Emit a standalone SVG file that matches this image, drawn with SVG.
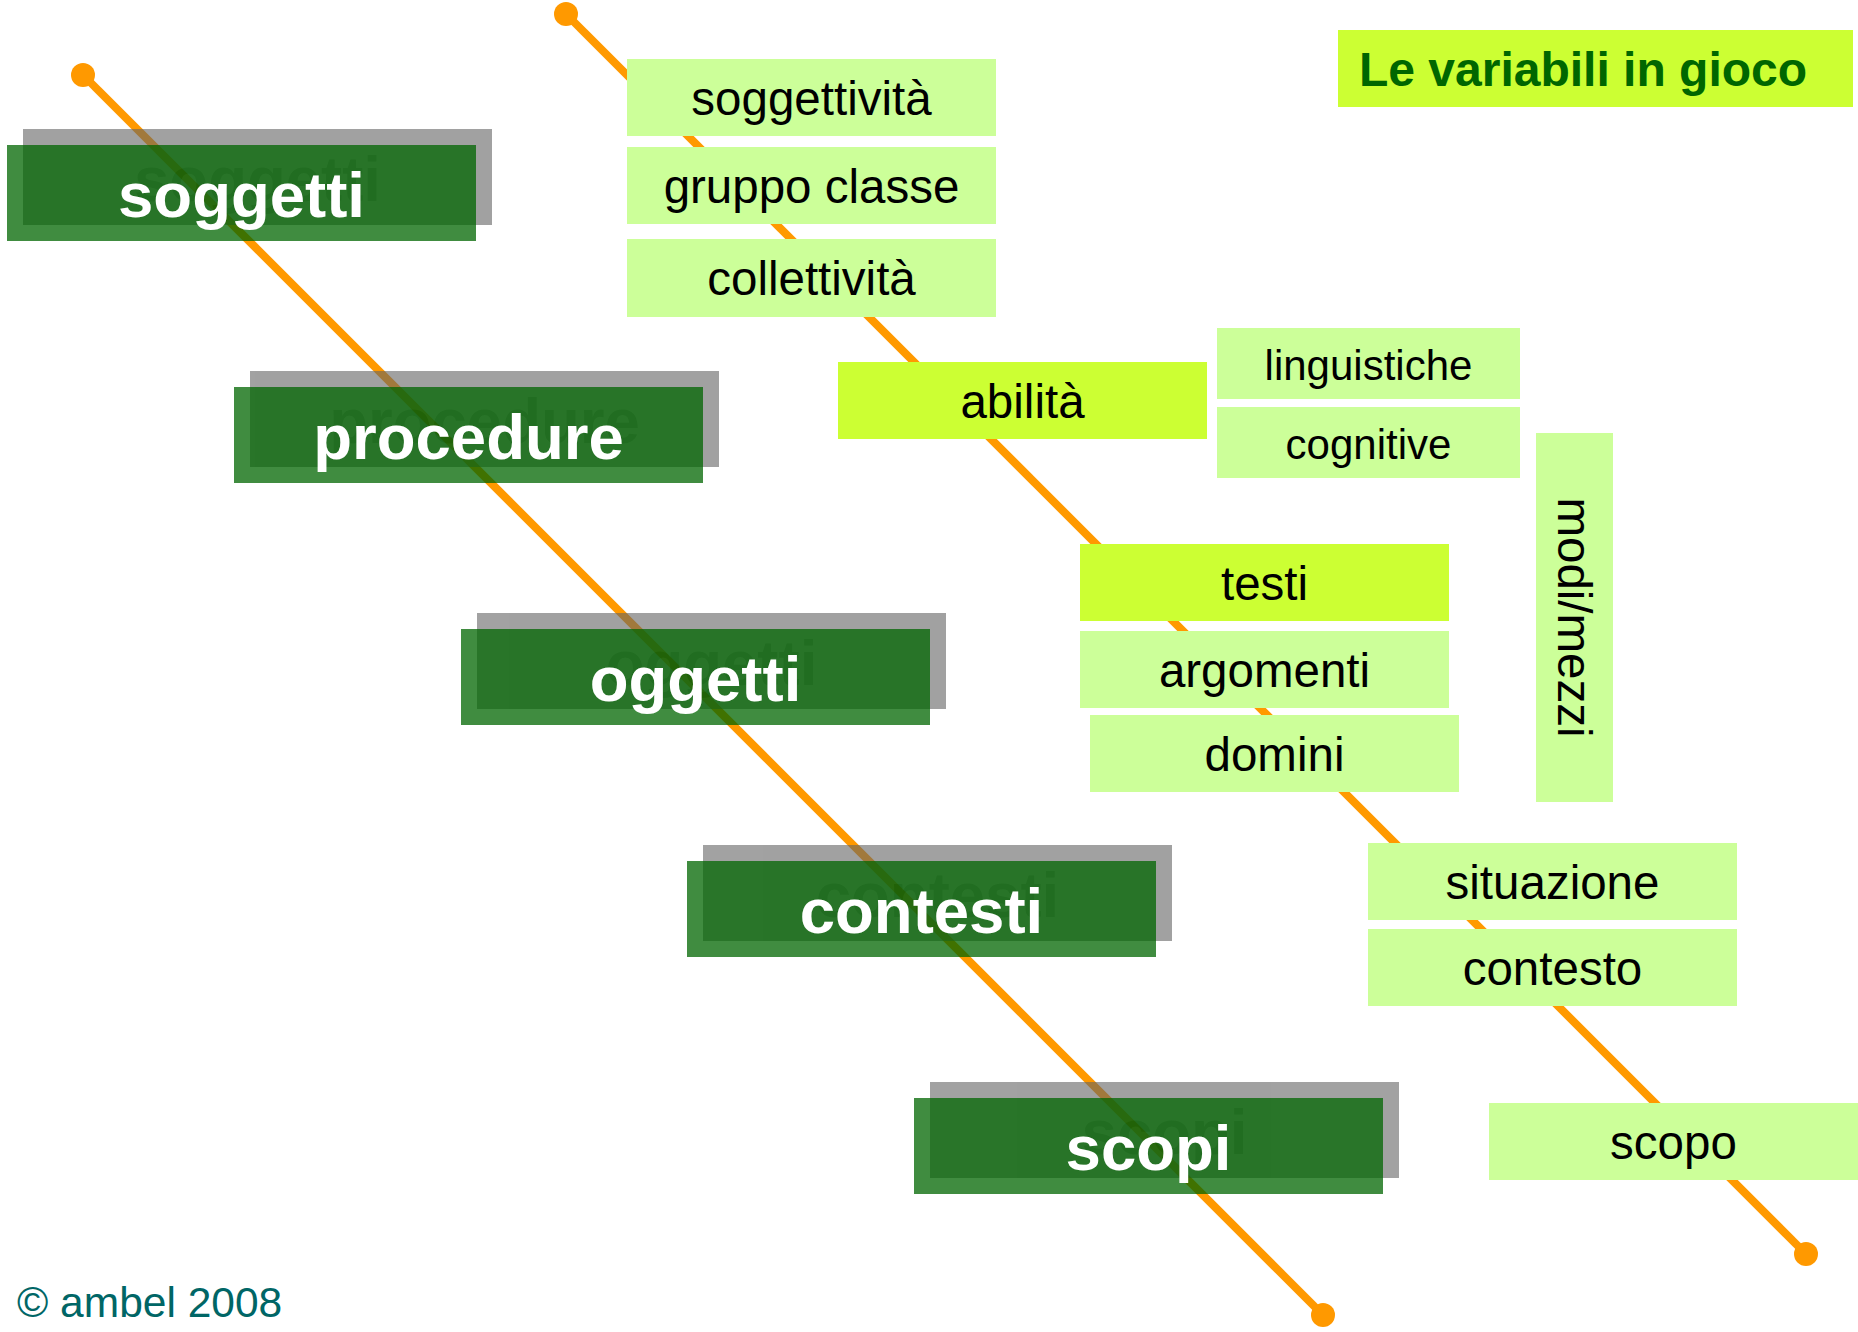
<svg xmlns="http://www.w3.org/2000/svg" width="1858" height="1332" viewBox="0 0 1858 1332">
<defs>
<style>
.conn{stroke:#ff9900;stroke-width:8;fill:none}
.shadow{opacity:0.6}
.shr{fill:#646464}
.sht{fill:#303030;font-family:"Liberation Sans",Arial,sans-serif;font-weight:bold;font-size:63.5px;text-anchor:middle}
.main{fill:#006600;fill-opacity:0.75}
.mt{fill:#ffffff;font-family:"Liberation Sans",Arial,sans-serif;font-weight:bold;font-size:63.5px;text-anchor:middle}
.lg{fill:#ccff99}
.yg{fill:#ccff33}
.t{fill:#000000;font-family:"Liberation Sans",Arial,sans-serif;font-size:47.5px;text-anchor:middle}
.ts{fill:#000000;font-family:"Liberation Sans",Arial,sans-serif;font-size:42px;text-anchor:middle}
</style>
<marker id="dot" viewBox="-13 -13 26 26" markerWidth="26" markerHeight="26" markerUnits="userSpaceOnUse" refX="0" refY="0">
<circle r="12" fill="#ff9900"/>
</marker>
</defs>
<rect width="1858" height="1332" fill="#ffffff"/>
<g id="connectors">
<line class="conn" x1="83" y1="75" x2="1323" y2="1315" marker-start="url(#dot)" marker-end="url(#dot)"/>
<line class="conn" x1="566" y1="14" x2="1806" y2="1254" marker-start="url(#dot)" marker-end="url(#dot)"/>
</g>
<g id="soggetti">
<g class="shadow"><rect class="shr" x="23" y="129" width="469" height="96"/><text class="sht" x="257.5" y="200.5">soggetti</text></g>
<rect class="main" x="7" y="145" width="469" height="96"/>
<text class="mt" x="241.5" y="216.5">soggetti</text>
</g>
<g id="procedure">
<g class="shadow"><rect class="shr" x="250" y="371" width="469" height="96"/><text class="sht" x="484.5" y="442.5">procedure</text></g>
<rect class="main" x="234" y="387" width="469" height="96"/>
<text class="mt" x="468.5" y="458.5">procedure</text>
</g>
<g id="oggetti">
<g class="shadow"><rect class="shr" x="477" y="613" width="469" height="96"/><text class="sht" x="711.5" y="684.5">oggetti</text></g>
<rect class="main" x="461" y="629" width="469" height="96"/>
<text class="mt" x="695.5" y="700.5">oggetti</text>
</g>
<g id="contesti">
<g class="shadow"><rect class="shr" x="703" y="845" width="469" height="96"/><text class="sht" x="937.5" y="916.5">contesti</text></g>
<rect class="main" x="687" y="861" width="469" height="96"/>
<text class="mt" x="921.5" y="932.5">contesti</text>
</g>
<g id="scopi">
<g class="shadow"><rect class="shr" x="930" y="1082" width="469" height="96"/><text class="sht" x="1164.5" y="1153.5">scopi</text></g>
<rect class="main" x="914" y="1098" width="469" height="96"/>
<text class="mt" x="1148.5" y="1169.5">scopi</text>
</g>
<g id="soggettivita"><rect class="lg" x="627" y="59" width="369" height="77"/><text class="t" x="811.5" y="114.5">soggettività</text></g>
<g id="gruppo-classe"><rect class="lg" x="627" y="147" width="369" height="77"/><text class="t" x="811.5" y="202.5">gruppo classe</text></g>
<g id="collettivita"><rect class="lg" x="627" y="239" width="369" height="78"/><text class="t" x="811.5" y="295">collettività</text></g>
<g id="abilita"><rect class="yg" x="838" y="362" width="369" height="77"/><text class="t" x="1022.5" y="417.5">abilità</text></g>
<g id="linguistiche"><rect class="lg" x="1217" y="328" width="303" height="71"/><text class="ts" x="1368.5" y="379.5">linguistiche</text></g>
<g id="cognitive"><rect class="lg" x="1217" y="407" width="303" height="71"/><text class="ts" x="1368.5" y="458.5">cognitive</text></g>
<g id="modi-mezzi"><rect class="lg" x="1536" y="433" width="77" height="369"/><text class="t" x="1574.5" y="634.5" transform="rotate(90 1574.5 617.5)">modi/mezzi</text></g>
<g id="testi"><rect class="yg" x="1080" y="544" width="369" height="77"/><text class="t" x="1264.5" y="599.5">testi</text></g>
<g id="argomenti"><rect class="lg" x="1080" y="631" width="369" height="77"/><text class="t" x="1264.5" y="686.5">argomenti</text></g>
<g id="domini"><rect class="lg" x="1090" y="715" width="369" height="77"/><text class="t" x="1274.5" y="770.5">domini</text></g>
<g id="situazione"><rect class="lg" x="1368" y="843" width="369" height="77"/><text class="t" x="1552.5" y="898.5">situazione</text></g>
<g id="contesto"><rect class="lg" x="1368" y="929" width="369" height="77"/><text class="t" x="1552.5" y="984.5">contesto</text></g>
<g id="scopo"><rect class="lg" x="1489" y="1103" width="369" height="77"/><text class="t" x="1673.5" y="1158.5">scopo</text></g>
<g id="title"><rect class="yg" x="1338" y="30" width="515" height="77"/><text x="1359" y="86" font-family="'Liberation Sans',Arial,sans-serif" font-weight="bold" font-size="48" fill="#006600">Le variabili in gioco</text></g>
<g id="copyright"><text x="17" y="1317" font-family="'Liberation Sans',Arial,sans-serif" font-size="42.5" fill="#006666">© ambel 2008</text></g>
</svg>
